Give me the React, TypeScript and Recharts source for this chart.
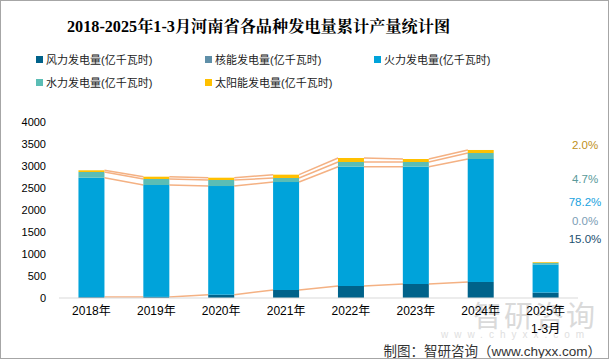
import { Bar, BarChart, XAxis, YAxis } from "recharts";

const YEARS = ["2018年", "2019年", "2020年", "2021年", "2022年", "2023年", "2024年", "2025年\n1-3月"];
const WIND = [20, 25, 75, 182, 273, 318, 364, 123];
const NUCLEAR = [0, 0, 0, 0, 0, 0, 0, 0];
const THERMAL = [2714, 2543, 2470, 2454, 2711, 2666, 2795, 640];
const HYDRO = [130, 137, 137, 91, 107, 107, 136, 38];
const SOLAR = [38, 52, 52, 76, 91, 68, 69, 16];
const Y_TICKS = [0, 500, 1000, 1500, 2000, 2500, 3000, 3500, 4000];
// shares of the latest period, top to bottom as printed on the right
const SHARE_LABELS = ["2.0%", "4.7%", "78.2%", "0.0%", "15.0%"];

const SERIES = [
  { key: "wind", name: "风力发电量(亿千瓦时)", color: "#00628a", values: WIND },
  { key: "nuclear", name: "核能发电量(亿千瓦时)", color: "#5f8fa8", values: NUCLEAR },
  { key: "thermal", name: "火力发电量(亿千瓦时)", color: "#00a3da", values: THERMAL },
  { key: "hydro", name: "水力发电量(亿千瓦时)", color: "#5bbdb5", values: HYDRO },
  { key: "solar", name: "太阳能发电量(亿千瓦时)", color: "#ffc000", values: SOLAR },
];

const SHARE_COLORS = ["#c09020", "#5a9a9a", "#1aa3e0", "#7c9db5", "#1c4f70"];

const data = YEARS.map((year, i) => {
  const row: Record<string, number | string> = { year };
  SERIES.forEach((s) => (row[s.key] = s.values[i]));
  return row;
});

const GAP = 0.3; // barCategoryGap per side
const LINKED = 7; // series lines only run across the full-year bars
const LINK_COLOR = "#f4b183";
const FONT = '"Liberation Sans", "Noto Sans CJK SC", sans-serif';

function cumTop(row: Record<string, any>, upto: number) {
  let sum = 0;
  for (let j = 0; j <= upto; j++) sum += Number(row[SERIES[j].key]) || 0;
  return sum;
}

function makeShape(si: number) {
  const s = SERIES[si];
  return (props: any) => {
    const { x, y, width, height, payload } = props;
    const index = props.index ?? data.findIndex((d) => d.year === payload.year);
    const val = Number(payload[s.key]) || 0;
    let link = null;
    if (val > 0 && index + 1 < LINKED) {
      const k = height / val;
      const low = cumTop(payload, si) - val;
      const zeroY = y + height + low * k;
      const nextY = zeroY - cumTop(data[index + 1], si) * k;
      const step = width / (1 - 2 * GAP);
      link = (
        <line
          x1={x + width}
          y1={y}
          x2={x + step}
          y2={nextY}
          stroke={LINK_COLOR}
          strokeWidth={1.5}
        />
      );
    }
    return (
      <g>
        {height > 0 && <rect x={x} y={y} width={width} height={height} fill={s.color} />}
        {link}
      </g>
    );
  };
}

function YearTick({ x, y, payload }: any) {
  const lines = String(payload.value).split("\n");
  return (
    <text x={x} y={y} textAnchor="middle" fontSize={12} fill="#000" fontFamily={FONT}>
      {lines.map((l, i) => (
        <tspan key={i} x={x} dy={i === 0 ? "0.71em" : "1.5em"}>
          {l}
        </tspan>
      ))}
    </text>
  );
}

const LEGEND_POS = [
  { left: 35, top: 50 },
  { left: 204, top: 50 },
  { left: 373, top: 50 },
  { left: 35, top: 73 },
  { left: 204, top: 73 },
];

export default function App() {
  return (
    <div
      style={{
        position: "absolute",
        left: 0,
        top: 0,
        width: 609,
        height: 359,
        boxSizing: "border-box",
        border: "1px solid #a6a6a6",
        background: "#fff",
        fontFamily: FONT,
        overflow: "hidden",
      }}
    >
      <div
        style={{
          position: "absolute",
          left: 66,
          top: 12,
          whiteSpace: "nowrap",
          fontFamily: '"Liberation Serif", "Noto Serif CJK SC", "Noto Sans CJK SC", serif',
          fontWeight: "bold",
          fontSize: 16.2,
          color: "#000",
        }}
      >
        2018-2025年1-3月河南省各品种发电量累计产量统计图
      </div>

      {SERIES.map((s, i) => (
        <div
          key={s.key}
          style={{
            position: "absolute",
            left: LEGEND_POS[i].left,
            top: LEGEND_POS[i].top,
            display: "flex",
            alignItems: "center",
            fontSize: 11,
            color: "#222",
            whiteSpace: "nowrap",
          }}
        >
          <span style={{ width: 7, height: 7, background: s.color, marginRight: 3 }} />
          {s.name}
        </div>
      ))}

      {/* watermark */}
      <div
        style={{
          position: "absolute",
          left: 472,
          top: 292,
          fontSize: 29,
          color: "#dadada",
          letterSpacing: 2,
          whiteSpace: "nowrap",
        }}
      >
        智研咨询
      </div>
      <div
        style={{
          position: "absolute",
          left: 440,
          top: 328,
          fontSize: 10,
          color: "#e0e0e0",
          letterSpacing: 6,
          whiteSpace: "nowrap",
        }}
      >
        www.chyxx.com
      </div>

      <div style={{ position: "absolute", left: 0, top: 0 }}>
        <BarChart
          width={609}
          height={359}
          data={data}
          barCategoryGap={`${GAP * 100}%`}
          margin={{ top: 121, right: 32, bottom: 32, left: 0 }}
        >
          <XAxis
            dataKey="year"
            tickLine={false}
            axisLine={{ stroke: "#d9d9d9" }}
            interval={0}
            tick={<YearTick />}
          />
          <YAxis
            width={58}
            domain={[0, 4000]}
            ticks={Y_TICKS}
            tickLine={false}
            axisLine={false}
            tickMargin={7}
            tick={{ fontSize: 11, fill: "#000", fontFamily: FONT }}
          />
          {SERIES.map((s, i) => (
            <Bar
              key={s.key}
              dataKey={s.key}
              name={s.name}
              stackId="a"
              fill={s.color}
              shape={makeShape(i)}
              isAnimationActive={false}
            />
          ))}
        </BarChart>
      </div>

      {SHARE_LABELS.map((t, i) => (
        <div
          key={t + i}
          style={{
            position: "absolute",
            left: 554,
            width: 60,
            top: [138, 172, 195, 214, 232][i],
            textAlign: "center",
            fontSize: 11.5,
            color: SHARE_COLORS[i],
          }}
        >
          {t}
        </div>
      ))}

      <div
        style={{
          position: "absolute",
          right: 7,
          top: 339,
          fontSize: 13.5,
          color: "#333",
          whiteSpace: "nowrap",
        }}
      >
        制图：智研咨询（www.chyxx.com）
      </div>
    </div>
  );
}
